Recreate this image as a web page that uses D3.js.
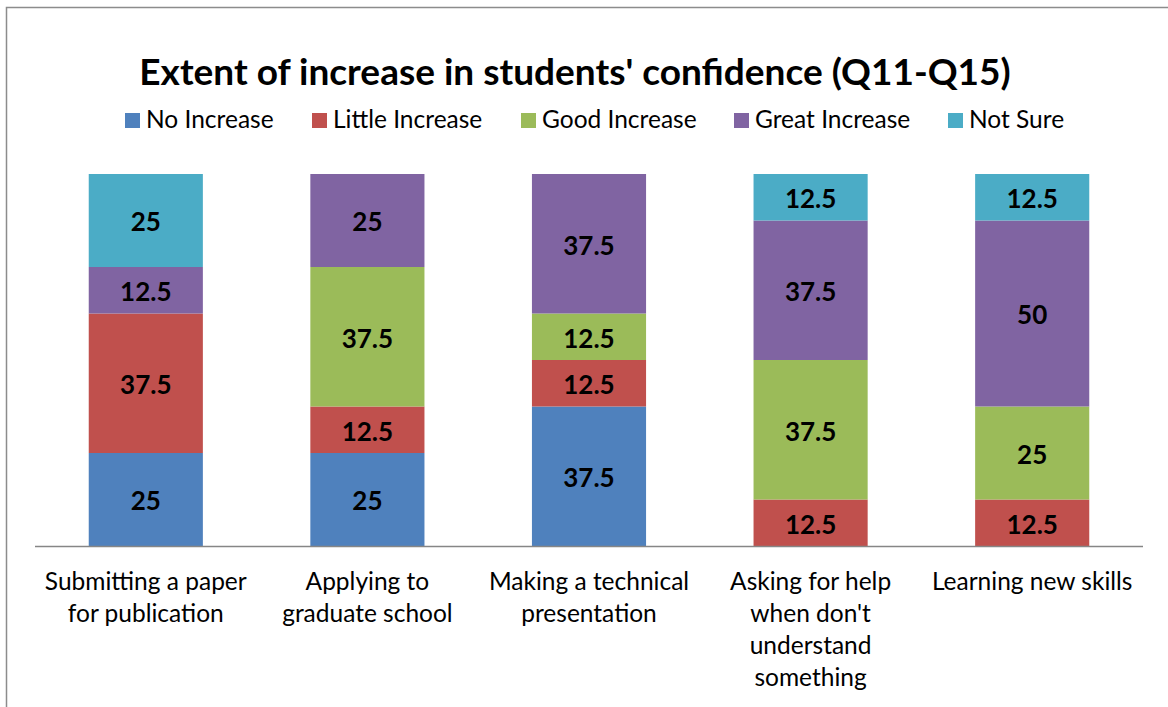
<!DOCTYPE html>
<html lang="en">
<head>
<meta charset="UTF-8">
<title>Extent of increase in students' confidence</title>
<script src="https://cdnjs.cloudflare.com/ajax/libs/d3/7.8.5/d3.min.js"></script>
<style>
    * { margin: 0; padding: 0; }
    body { background: #fff; font-family: Lato, "Open Sans", sans-serif; }
    svg { display: block; }
</style>
</head>
<body>
<svg id="chart" width="1168" height="707"></svg>
<script>
    const categories = [
        ["Submitting a paper", "for publication"],
        ["Applying to", "graduate school"],
        ["Making a technical", "presentation"],
        ["Asking for help", "when don't", "understand", "something"],
        ["Learning new skills"]
    ];
    const seriesNames = ["No Increase", "Little Increase", "Good Increase", "Great Increase", "Not Sure"];
    const colors = ["#4F81BD", "#C0504D", "#9BBB59", "#8064A2", "#4BACC6"];

    const noIncrease    = [25, 25, 37.5, 0, 0];
    const littleIncrease = [37.5, 12.5, 12.5, 12.5, 12.5];
    const goodIncrease  = [0, 37.5, 12.5, 37.5, 25];
    const greatIncrease = [12.5, 25, 37.5, 37.5, 50];
    const notSure       = [25, 0, 0, 12.5, 12.5];

    const seriesValues = [noIncrease, littleIncrease, goodIncrease, greatIncrease, notSure];

    const svg = d3.select("#chart");

    // chart frame
    svg.append("rect")
        .attr("x", 6.5).attr("y", 7.5)
        .attr("width", 1200).attr("height", 760)
        .attr("fill", "none")
        .attr("stroke", "#8c8c8c")
        .attr("stroke-width", 1.5);

    const plot = { left: 35, right: 1143, top: 174, bottom: 546 };

    const x = d3.scaleBand()
        .domain(d3.range(categories.length))
        .range([plot.left, plot.right])
        .paddingInner(0.485)
        .paddingOuter(0.2425);

    const y = d3.scaleLinear()
        .domain([0, 100])
        .range([plot.bottom, plot.top]);

    const rows = d3.range(categories.length).map(i => {
        const r = { idx: i };
        seriesNames.forEach((s, k) => r[s] = seriesValues[k][i]);
        return r;
    });
    const stacked = d3.stack().keys(seriesNames)(rows);

    const groups = svg.append("g").selectAll("g")
        .data(stacked)
        .join("g")
        .attr("fill", (d, i) => colors[i]);

    groups.selectAll("rect")
        .data(d => d.filter(p => p[1] > p[0]))
        .join("rect")
        .attr("x", d => x(d.data.idx))
        .attr("y", d => y(d[1]))
        .attr("width", x.bandwidth())
        .attr("height", d => y(d[0]) - y(d[1]));

    groups.selectAll("text")
        .data(d => d.filter(p => p[1] > p[0]))
        .join("text")
        .attr("x", d => x(d.data.idx) + x.bandwidth() / 2)
        .attr("y", d => (y(d[0]) + y(d[1])) / 2 + 1)
        .attr("dy", "0.38em")
        .attr("text-anchor", "middle")
        .attr("fill", "#000")
        .attr("font-weight", "bold")
        .attr("font-size", 26)
        .text(d => d3.format("~g")(d[1] - d[0]));

    // baseline
    svg.append("line")
        .attr("x1", plot.left).attr("x2", plot.right)
        .attr("y1", plot.bottom + 0.5).attr("y2", plot.bottom + 0.5)
        .attr("stroke", "#868686")
        .attr("stroke-width", 1.5);

    // category labels
    const catLabels = svg.append("g").selectAll("text")
        .data(categories)
        .join("text")
        .attr("x", (d, i) => x(i) + x.bandwidth() / 2)
        .attr("y", 590)
        .attr("text-anchor", "middle")
        .attr("font-size", 24.5)
        .attr("fill", "#000");
    catLabels.selectAll("tspan")
        .data(d => d)
        .join("tspan")
        .attr("x", function() { return this.parentNode.getAttribute("x"); })
        .attr("dy", (d, i) => i === 0 ? 0 : 32)
        .text(d => d);

    // title
    svg.append("text")
        .attr("x", 575)
        .attr("y", 85)
        .attr("text-anchor", "middle")
        .attr("font-size", 37)
        .attr("font-weight", "bold")
        .text("Extent of increase in students' confidence (Q11-Q15)");

    // legend
    const legendX = [125, 312, 521, 734, 948];
    const legend = svg.append("g").selectAll("g")
        .data(seriesNames)
        .join("g")
        .attr("transform", (d, i) => `translate(${legendX[i]},113)`);
    legend.append("rect")
        .attr("width", 15).attr("height", 15)
        .attr("fill", (d, i) => colors[i]);
    legend.append("text")
        .attr("x", 21).attr("y", 15)
        .attr("font-size", 24.5)
        .text(d => d);
</script>
</body>
</html>
